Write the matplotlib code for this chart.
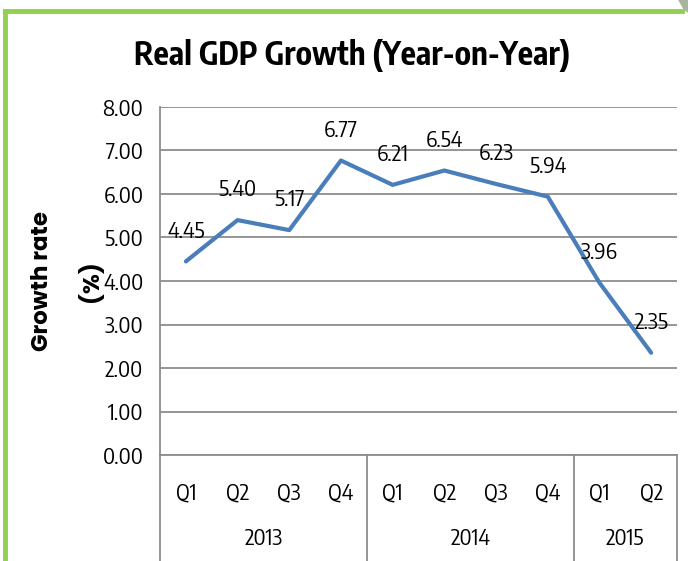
import matplotlib
matplotlib.use("Agg")
import matplotlib.pyplot as plt
import matplotlib.transforms as mtransforms
from matplotlib.lines import Line2D
from matplotlib.patches import Polygon

quarters = ["Q1", "Q2", "Q3", "Q4", "Q1", "Q2", "Q3", "Q4", "Q1", "Q2"]
years = ["2013", "2014", "2015"]
year_sizes = [4, 4, 2]
growth = [4.45, 5.40, 5.17, 6.77, 6.21, 6.54, 6.23, 5.94, 3.96, 2.35]

narrow = ["Encode Sans Condensed", "DejaVu Sans"]
gothic = ["Poppins", "DejaVu Sans"]
line_color = "#4A7EBB"
grid_color = "#8C8C8C"
green = "#92D050"

W, H = 688, 561
fig = plt.figure(figsize=(W / 100, H / 100), dpi=100)
ax = fig.add_axes([160 / W, 1 - 455 / H, (677 - 160) / W, (455 - 107) / H])

x = list(range(len(growth)))
ax.plot(x, growth, color=line_color, lw=3.0, solid_capstyle="round", zorder=3)
for xi, v in zip(x, growth):
    ax.annotate(f"{v:.2f}", (xi, v), xytext=(0, 30), textcoords="offset pixels",
                ha="center", va="center", fontsize=16, family=narrow, zorder=4)

ax.set_xlim(-0.5, len(growth) - 0.5)
ax.set_ylim(0, 8)
ax.set_yticks(range(0, 9))
ax.set_yticklabels([f"{v:.2f}" for v in range(0, 9)], fontsize=16, family=narrow)
ax.tick_params(axis="y", length=0, pad=12)
ax.set_xticks([])
ax.grid(axis="y", color=grid_color, lw=1.3)
ax.set_axisbelow(True)
for side in ["top", "right"]:
    ax.spines[side].set_visible(False)
ax.spines["left"].set_color(grid_color)
ax.spines["bottom"].set_color(grid_color)
ax.spines["left"].set_linewidth(1.3)
ax.spines["bottom"].set_linewidth(1.3)

# two-level category axis
trans = mtransforms.blended_transform_factory(ax.transData, ax.transAxes)
for xi, q in zip(x, quarters):
    ax.text(xi, -0.11, q, transform=trans, ha="center", va="center",
            fontsize=16, family=narrow)
start = -0.5
edges = [start]
for yr, n in zip(years, year_sizes):
    ax.text(start + n / 2, -0.24, yr, transform=trans, ha="center", va="center",
            fontsize=16, family=narrow)
    start += n
    edges.append(start)
for e in edges:
    ax.add_line(Line2D([e, e], [0, -0.4], transform=trans, color=grid_color,
                       lw=1.3, clip_on=False))

fig.text(352 / W, 1 - 55 / H, "Real GDP Growth (Year-on-Year)", ha="center",
         va="center", fontsize=23, fontweight="bold", family=narrow)
fig.text(43 / W, 1 - 281 / H, "Growth rate", rotation=90, ha="center", va="center",
         fontsize=16.5, fontweight="bold", family=gothic)
fig.text(91 / W, 1 - 281 / H, "(%)", rotation=90, ha="center", va="center",
         fontsize=16.5, fontweight="bold", family=gothic)

# green frame and page corner
fig.add_artist(Line2D([5 / W, 682 / W], [1 - 11 / H, 1 - 11 / H], color=green,
                      lw=3.5, transform=fig.transFigure))
fig.add_artist(Line2D([5 / W, 5 / W], [0, 1 - 11 / H], color=green,
                      lw=3.5, transform=fig.transFigure))
fig.add_artist(Polygon([(679 / W, 1), (1, 1), (1, 1 - 12 / H), (684 / W, 1 - 9 / H)],
                       closed=True, color="#A9B49C", transform=fig.transFigure))

fig.savefig("out.png", dpi=100)
